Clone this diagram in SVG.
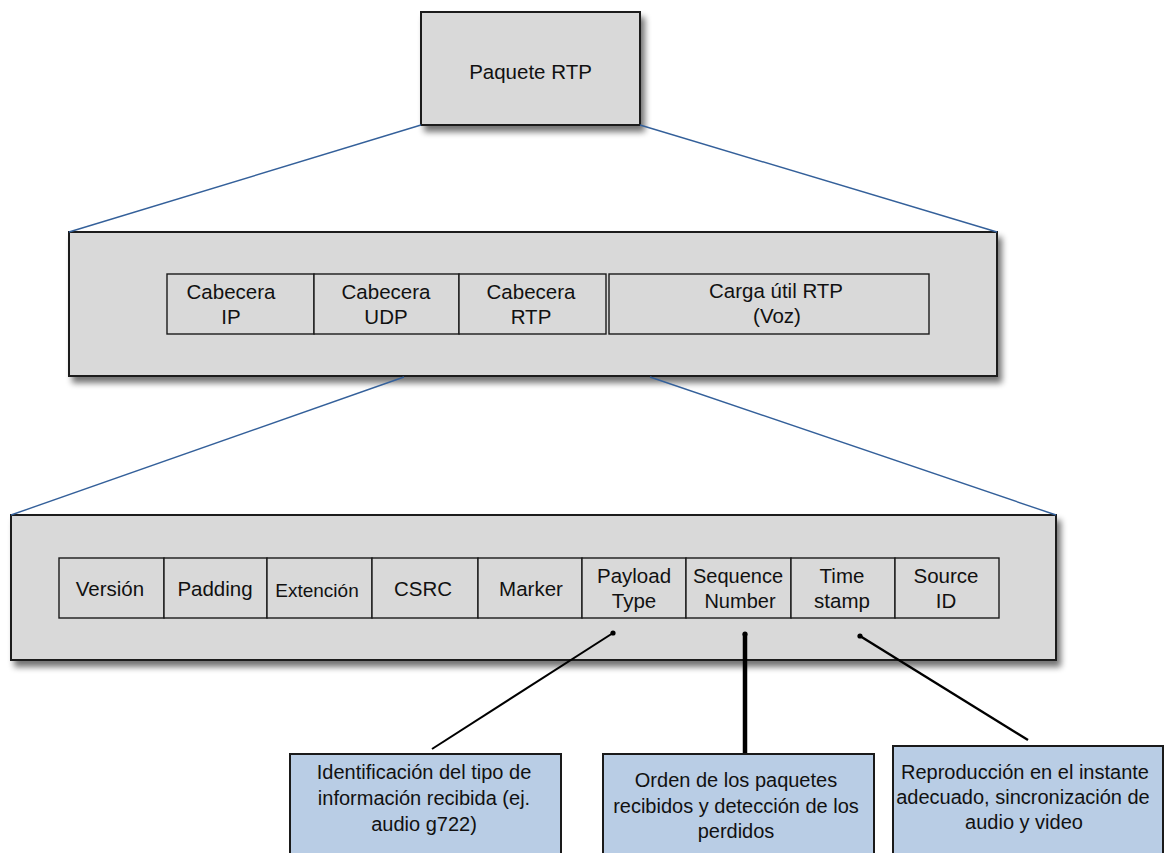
<svg xmlns="http://www.w3.org/2000/svg" width="1168" height="853" viewBox="0 0 1168 853">
  <defs>
    <filter id="shadow" x="-5%" y="-10%" width="115%" height="130%">
      <feGaussianBlur in="SourceAlpha" stdDeviation="3"/>
      <feOffset dx="4" dy="6" result="b"/>
      <feComponentTransfer><feFuncA type="linear" slope="0.55"/></feComponentTransfer>
      <feMerge><feMergeNode/><feMergeNode in="SourceGraphic"/></feMerge>
    </filter>
    <marker id="dot" viewBox="0 0 6 6" refX="3" refY="3" markerWidth="6" markerHeight="6" markerUnits="userSpaceOnUse">
      <circle cx="3" cy="3" r="2.6" fill="#000"/>
    </marker>
  </defs>
  <style>
    text { font-family: "Liberation Sans", Arial, sans-serif; fill: #111; text-anchor: middle; }
    .t { font-size: 20.5px; }
    .s { font-size: 19px; }
    .q { font-size: 20px; }
    .b { font-size: 20px; }
    .frame { fill: #d9d9d9; stroke: #1a1a1a; stroke-width: 2; }
    .cell { fill: #d9d9d9; stroke: #1a1a1a; stroke-width: 1.4; }
    .note { fill: #b9cde5; stroke: #1a1a1a; stroke-width: 2; }
    .blue { stroke: #34609a; stroke-width: 1.4; fill: none; }
    .link { stroke: #000; fill: none; }
  </style>

  <rect width="1168" height="853" fill="#fff"/>

  <!-- top level packet -->
  <g id="paquete">
    <rect class="frame" x="421" y="12" width="219" height="113" filter="url(#shadow)"/>
    <text class="t" x="530.5" y="79">Paquete RTP</text>
  </g>

  <!-- encapsulation layers -->
  <g id="encapsulado">
    <rect class="frame" x="69" y="232" width="928" height="144" filter="url(#shadow)"/>
    <g id="cab-ip">
      <rect class="cell" x="167" y="274" width="147" height="60"/>
      <text class="t" x="231" y="299">Cabecera</text>
      <text class="t" x="231" y="324">IP</text>
    </g>
    <g id="cab-udp">
      <rect class="cell" x="314" y="274" width="145" height="60"/>
      <text class="t" x="386" y="299">Cabecera</text>
      <text class="t" x="386" y="324">UDP</text>
    </g>
    <g id="cab-rtp">
      <rect class="cell" x="459" y="274" width="147" height="60"/>
      <text class="t" x="531" y="299">Cabecera</text>
      <text class="t" x="531" y="324">RTP</text>
    </g>
    <g id="carga">
      <rect class="cell" x="609" y="274" width="320" height="60"/>
      <text class="t" x="776" y="298">Carga útil RTP</text>
      <text class="t" x="777" y="323">(Voz)</text>
    </g>
  </g>

  <!-- RTP header fields -->
  <g id="cabecera-rtp">
    <rect class="frame" x="11" y="515" width="1045" height="145" filter="url(#shadow)"/>
    <g id="version">
      <rect class="cell" x="59" y="558" width="105" height="60"/>
      <text class="t" x="110" y="596">Versión</text>
    </g>
    <g id="padding">
      <rect class="cell" x="164" y="558" width="103" height="60"/>
      <text class="t" x="215" y="596">Padding</text>
    </g>
    <g id="extension">
      <rect class="cell" x="267" y="558" width="105" height="60"/>
      <text class="s" x="317" y="597">Extención</text>
    </g>
    <g id="csrc">
      <rect class="cell" x="372" y="558" width="106" height="60"/>
      <text class="t" x="423" y="596">CSRC</text>
    </g>
    <g id="marker">
      <rect class="cell" x="478" y="558" width="104" height="60"/>
      <text class="t" x="531" y="596">Marker</text>
    </g>
    <g id="payload-type">
      <rect class="cell" x="582" y="558" width="104" height="60"/>
      <text class="t" x="634" y="583">Payload</text>
      <text class="t" x="634" y="608">Type</text>
    </g>
    <g id="sequence-number">
      <rect class="cell" x="686" y="558" width="105" height="60"/>
      <text class="q" x="738" y="583">Sequence</text>
      <text class="q" x="740" y="608">Number</text>
    </g>
    <g id="time-stamp">
      <rect class="cell" x="791" y="558" width="104" height="60"/>
      <text class="t" x="842" y="583">Time</text>
      <text class="t" x="842" y="608">stamp</text>
    </g>
    <g id="source-id">
      <rect class="cell" x="895" y="558" width="104" height="60"/>
      <text class="t" x="946" y="583">Source</text>
      <text class="t" x="946" y="608">ID</text>
    </g>
  </g>

  <!-- field descriptions -->
  <g id="nota-payload">
    <rect class="note" x="290" y="754" width="271" height="110"/>
    <text class="b" x="424" y="779">Identificación del tipo de</text>
    <text class="b" x="424" y="805">información recibida (ej.</text>
    <text class="b" x="424" y="831">audio g722)</text>
  </g>
  <g id="nota-sequence">
    <rect class="note" x="603" y="754" width="271" height="110"/>
    <text class="b" x="736" y="787">Orden de los paquetes</text>
    <text class="b" x="736" y="813">recibidos y detección de los</text>
    <text class="b" x="736" y="838">perdidos</text>
  </g>
  <g id="nota-timestamp">
    <rect class="note" x="893" y="746" width="270" height="118"/>
    <text class="b" x="1025" y="779">Reproducción en el instante</text>
    <text class="b" x="1023" y="804">adecuado, sincronización de</text>
    <text class="b" x="1024" y="829">audio y video</text>
  </g>

  <!-- connectors, drawn above the frames -->
  <g id="connectors">
    <line class="blue" x1="421" y1="125" x2="69" y2="232"/>
    <line class="blue" x1="640" y1="125" x2="997" y2="232"/>
    <line class="blue" x1="404" y1="377" x2="11" y2="515"/>
    <line class="blue" x1="650" y1="377" x2="1056" y2="515"/>
    <line class="link" stroke-width="2" x1="613" y1="633" x2="432" y2="749" marker-start="url(#dot)"/>
    <line class="link" stroke-width="4.5" x1="745" y1="634" x2="745" y2="753" marker-start="url(#dot)"/>
    <line class="link" stroke-width="2.4" x1="860" y1="636" x2="1028" y2="740" marker-start="url(#dot)"/>
  </g>
</svg>
